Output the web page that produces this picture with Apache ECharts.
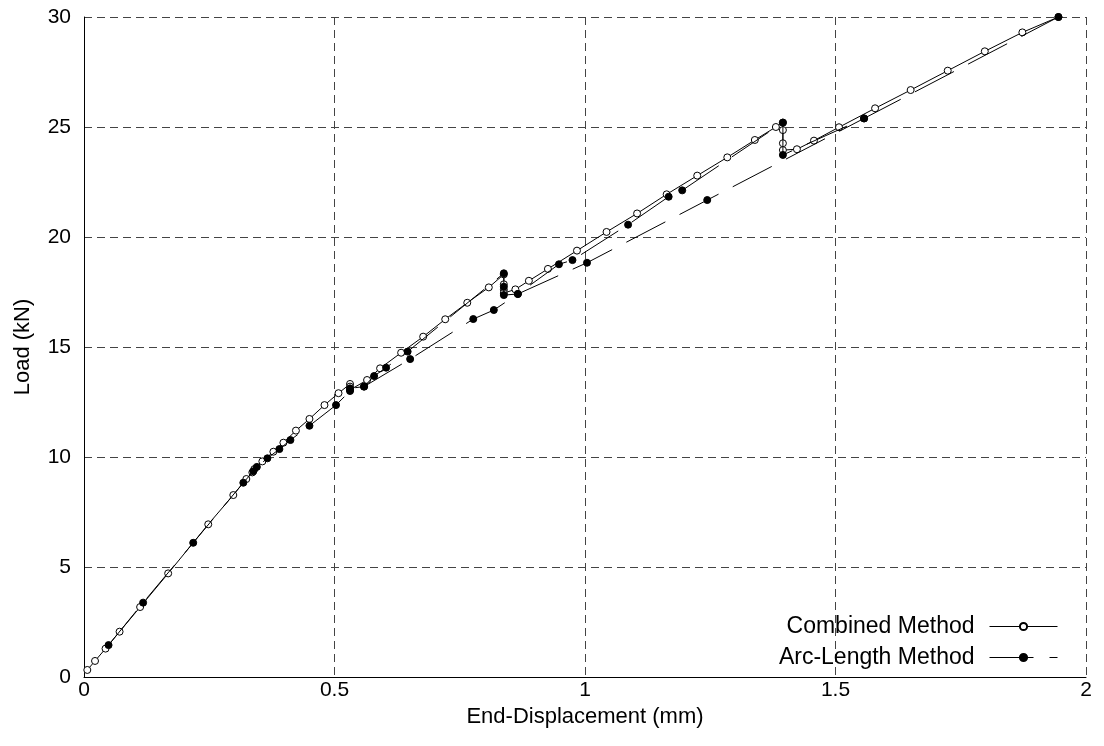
<!DOCTYPE html>
<html>
<head>
<meta charset="utf-8">
<script src="https://cdn.jsdelivr.net/npm/echarts@6/dist/echarts.min.js"></script>
<style>
  html, body { margin: 0; padding: 0; background: #fff; }
  #chart { width: 1104px; height: 746px; }
</style>
</head>
<body>
<div id="chart"></div>
<script>
// Combined method (open circles, solid line)
const combinedDisp = [0.0066, 0.022, 0.043, 0.071, 0.112, 0.168, 0.248, 0.298, 0.324, 0.336, 0.340,
  0.356, 0.378, 0.398, 0.423, 0.450, 0.480, 0.508, 0.531, 0.531, 0.531, 0.565, 0.591, 0.633,
  0.677, 0.721, 0.765, 0.808, 0.838, 0.838, 0.838, 0.838, 0.861, 0.888, 0.926, 0.984, 1.043,
  1.104, 1.163, 1.224, 1.284, 1.339, 1.381, 1.395, 1.395, 1.395, 1.395, 1.423, 1.457, 1.507,
  1.579, 1.650, 1.724, 1.798, 1.873, 1.945];
const combinedLoad = [0.32, 0.73, 1.29, 2.06, 3.18, 4.71, 6.94, 8.27, 9.0, 9.3, 9.45,
  9.8, 10.24, 10.65, 11.2, 11.73, 12.36, 12.9, 13.32, 13.2, 13.05, 13.5, 14.03, 14.74,
  15.47, 16.26, 17.01, 17.71, 18.3, 17.85, 17.6, 17.45, 17.62, 18.01, 18.55, 19.38, 20.23,
  21.07, 21.94, 22.79, 23.62, 24.41, 25.0, 25.2, 24.86, 24.26, 23.95, 23.99, 24.38, 24.99,
  25.85, 26.68, 27.56, 28.44, 29.3, 30.0];

// Arc-length method (filled circles, dashed line) - main path
const arcDisp = [0.049, 0.118, 0.218, 0.318, 0.338, 0.345, 0.366, 0.390, 0.412, 0.450, 0.503,
  0.531, 0.531, 0.559, 0.579, 0.603, 0.646, 0.838, 0.838, 0.838, 0.866, 0.948, 0.975,
  1.086, 1.167, 1.194, 1.395, 1.395, 1.557, 1.945];
const arcLoad = [1.45, 3.38, 6.10, 8.83, 9.35, 9.55, 9.94, 10.36, 10.77, 11.42, 12.36,
  13.0, 13.12, 13.2, 13.68, 14.06, 14.79, 18.35, 17.74, 17.36, 17.41, 18.76, 18.95,
  20.56, 21.83, 22.12, 25.2, 23.73, 25.39, 30.0];

// Arc-length method - lower branch
const arcBranchDisp = [0.559, 0.651, 0.777, 0.818, 0.866, 1.004, 1.244, 1.557];
const arcBranchLoad = [13.2, 14.45, 16.27, 16.68, 17.41, 18.83, 21.68, 25.39];

const xTicks = [0, 0.5, 1, 1.5, 2];
const yTicks = [0, 5, 10, 15, 20, 25, 30];

function zip(xs, ys) {
  return xs.map((x, i) => [x, ys[i]]);
}

const FONT = "Liberation Sans";
const chart = echarts.init(document.getElementById("chart"));

const gridLine = { show: true, lineStyle: { color: "#444", width: 1, type: [8, 5] } };

chart.setOption({
  backgroundColor: "#fff",
  animation: false,
  grid: { left: 84, right: 18, top: 17, bottom: 69 },
  legend: {
    data: ["Combined Method", "Arc-Length Method"],
    orient: "vertical",
    right: 41,
    top: 610,
    align: "right",
    itemWidth: 68,
    itemHeight: 9,
    itemGap: 8,
    lineStyle: { width: 1 },
    textStyle: { fontFamily: FONT, fontSize: 23, color: "#000", padding: [0, 10, 0, 0] },
  },
  xAxis: [
    {
      type: "value",
      min: xTicks[0],
      max: xTicks[xTicks.length - 1],
      interval: 0.5,
      name: "End-Displacement (mm)",
      nameLocation: "middle",
      nameGap: 23,
      nameTextStyle: { fontFamily: FONT, fontSize: 22, color: "#000" },
      axisLine: { show: false },
      axisTick: { show: false },
      axisLabel: { fontFamily: FONT, fontSize: 21, color: "#000", margin: 3 },
      splitLine: gridLine,
    },
    {
      type: "value",
      position: "top",
      min: 0,
      max: 2,
      axisLine: { show: true, lineStyle: { color: "#000", width: 1 } },
      axisTick: { show: false },
      axisLabel: { show: false },
      splitLine: { show: false },
    },
  ],
  yAxis: [
    {
      type: "value",
      min: yTicks[0],
      max: yTicks[yTicks.length - 1],
      interval: 5,
      name: "Load (kN)",
      nameLocation: "middle",
      nameGap: 50,
      nameTextStyle: { fontFamily: FONT, fontSize: 22, color: "#000" },
      axisLine: { show: false },
      axisTick: { show: false },
      axisLabel: { fontFamily: FONT, fontSize: 21, color: "#000", margin: 13 },
      splitLine: gridLine,
    },
    {
      type: "value",
      position: "right",
      min: 0,
      max: 30,
      axisLine: { show: true, lineStyle: { color: "#000", width: 1 } },
      axisTick: { show: false },
      axisLabel: { show: false },
      splitLine: { show: false },
    },
  ],
  series: [
    {
      name: "Combined Method",
      type: "line",
      data: zip(combinedDisp, combinedLoad),
      symbol: "circle",
      symbolSize: 7,
      showAllSymbol: true,
      itemStyle: { color: "#fff", borderColor: "#000", borderWidth: 1 },
      lineStyle: { color: "#000", width: 1 },
      z: 3,
    },
    {
      name: "Arc-Length Method",
      type: "line",
      data: zip(arcDisp, arcLoad),
      symbol: "circle",
      symbolSize: 7,
      showAllSymbol: true,
      itemStyle: { color: "#000", borderColor: "#000", borderWidth: 1 },
      lineStyle: { color: "#000", width: 1, type: [44, 16] },
      z: 4,
    },
    {
      name: "Arc-Length Method",
      type: "line",
      data: zip(arcBranchDisp, arcBranchLoad),
      symbol: "circle",
      symbolSize: 7,
      showAllSymbol: true,
      itemStyle: { color: "#000", borderColor: "#000", borderWidth: 1 },
      lineStyle: { color: "#000", width: 1, type: [44, 16] },
      z: 4,
    },
  ],
});
</script>
</body>
</html>
